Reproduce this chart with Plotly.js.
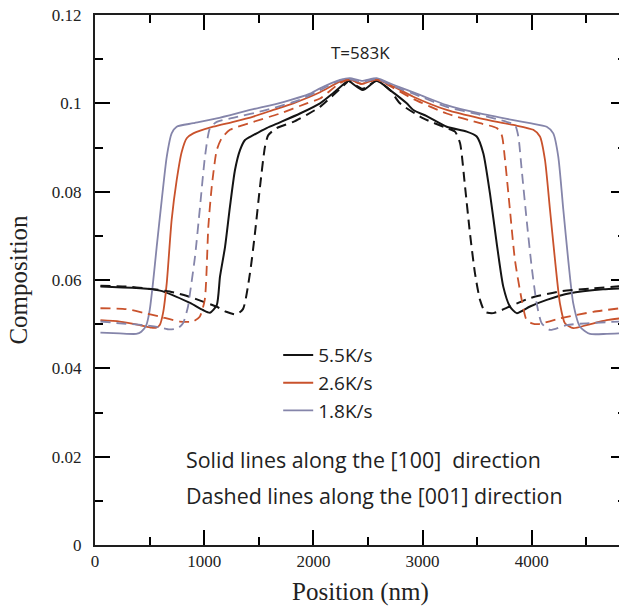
<!DOCTYPE html>
<html>
<head>
<meta charset="utf-8">
<script src="https://cdn.plot.ly/plotly-3.0.1.min.js"></script>
<style>
html, body { margin: 0; padding: 0; overflow: hidden; background: #fff; }
#chart { width: 640px; height: 606px; }
</style>
</head>
<body>
<div id="chart"></div>
<script>
// ---- Data ----
const seriesNames = ["5.5K/s", "2.6K/s", "1.8K/s"];

// 5.5 K/s, solid = [100] direction
const x55Solid = [50, 595, 870, 989, 1053, 1115, 1145, 1191, 1236, 1282, 1328, 1374, 1450, 1572, 1694, 1877, 2061, 2180, 2305, 2320, 2452, 2580, 2702, 2855, 2915, 3038, 3221, 3404, 3496, 3556, 3617, 3679, 3739, 3800, 3862, 3984, 4137, 4350, 4652, 4805];
const y55Solid = [0.0585, 0.0576, 0.0548, 0.0532, 0.0526, 0.0543, 0.0608, 0.0675, 0.0766, 0.0849, 0.0894, 0.0917, 0.0928, 0.0944, 0.0957, 0.0977, 0.1000, 0.1023, 0.1049, 0.1051, 0.1030, 0.1051, 0.1030, 0.1000, 0.0985, 0.0971, 0.0947, 0.0936, 0.0925, 0.0887, 0.0796, 0.0683, 0.0585, 0.0540, 0.0525, 0.0540, 0.0555, 0.0570, 0.0579, 0.0581];
// 5.5 K/s, dashed = [001] direction
const x55Dash = [50, 287, 470, 684, 867, 989, 1111, 1202, 1291, 1355, 1419, 1465, 1511, 1557, 1587, 1664, 1816, 1939, 2061, 2180, 2305, 2320, 2452, 2580, 2702, 2793, 3007, 3221, 3297, 3343, 3389, 3434, 3480, 3526, 3572, 3648, 3800, 3984, 4258, 4561, 4808];
const y55Dash = [0.0587, 0.0585, 0.0581, 0.0574, 0.0562, 0.0551, 0.0540, 0.0528, 0.0522, 0.0534, 0.0615, 0.0706, 0.0811, 0.0902, 0.0928, 0.0944, 0.0958, 0.0974, 0.0992, 0.1018, 0.1047, 0.1051, 0.1033, 0.1051, 0.1030, 0.1000, 0.0966, 0.0944, 0.0936, 0.0910, 0.0811, 0.0706, 0.0615, 0.0555, 0.0528, 0.0525, 0.0540, 0.0559, 0.0574, 0.0581, 0.0586];

// 2.6 K/s
const x26Solid = [50, 226, 409, 516, 561, 593, 623, 657, 702, 748, 794, 840, 900, 1083, 1267, 1450, 1633, 1816, 2061, 2244, 2335, 2442, 2580, 2732, 2915, 3221, 3526, 3831, 4014, 4075, 4121, 4167, 4213, 4258, 4304, 4380, 4503, 4686, 4805];
const y26Solid = [0.0509, 0.0506, 0.0498, 0.0492, 0.0492, 0.0498, 0.0525, 0.0593, 0.0736, 0.0826, 0.0890, 0.0921, 0.0932, 0.0947, 0.0958, 0.0970, 0.0985, 0.1000, 0.1025, 0.1049, 0.1054, 0.1044, 0.1054, 0.1038, 0.1015, 0.0985, 0.0966, 0.0951, 0.0940, 0.0925, 0.0872, 0.0759, 0.0645, 0.0547, 0.0502, 0.0491, 0.0498, 0.0509, 0.0513];
const x26Dash = [50, 287, 440, 593, 776, 897, 959, 1005, 1038, 1069, 1115, 1160, 1236, 1450, 1694, 1939, 2061, 2244, 2335, 2442, 2580, 2732, 2915, 3221, 3526, 3679, 3725, 3755, 3800, 3846, 3908, 3953, 4002, 4060, 4258, 4563, 4808];
const y26Dash = [0.0536, 0.0534, 0.0526, 0.0517, 0.0506, 0.0506, 0.0517, 0.0555, 0.0721, 0.0811, 0.0894, 0.0921, 0.0940, 0.0958, 0.0977, 0.1000, 0.1011, 0.1046, 0.1053, 0.1044, 0.1053, 0.1035, 0.1010, 0.0977, 0.0955, 0.0944, 0.0928, 0.0872, 0.0759, 0.0645, 0.0555, 0.0509, 0.0502, 0.0500, 0.0513, 0.0528, 0.0536];

// 1.8 K/s
const x18Solid = [50, 226, 378, 424, 470, 501, 531, 565, 611, 657, 702, 748, 900, 1115, 1419, 1724, 1969, 2061, 2244, 2335, 2442, 2580, 2732, 2976, 3221, 3526, 3831, 3984, 4137, 4197, 4243, 4289, 4334, 4380, 4442, 4533, 4686, 4805];
const y18Solid = [0.0481, 0.0479, 0.0478, 0.0483, 0.0498, 0.0532, 0.0593, 0.0675, 0.0781, 0.0879, 0.0932, 0.0947, 0.0955, 0.0966, 0.0985, 0.1003, 0.1022, 0.1034, 0.1053, 0.1057, 0.1051, 0.1057, 0.1042, 0.1019, 0.0996, 0.0977, 0.0962, 0.0955, 0.0947, 0.0932, 0.0879, 0.0759, 0.0645, 0.0547, 0.0494, 0.0478, 0.0478, 0.0479];
const x18Dash = [50, 226, 440, 593, 684, 760, 806, 852, 870, 916, 962, 1007, 1053, 1115, 1264, 1572, 1877, 2061, 2244, 2335, 2442, 2580, 2732, 2976, 3221, 3526, 3770, 3846, 3877, 3908, 3953, 3999, 4045, 4091, 4167, 4320, 4503, 4805];
const y18Dash = [0.0506, 0.0502, 0.0498, 0.0493, 0.0488, 0.0491, 0.0502, 0.0540, 0.0570, 0.0653, 0.0766, 0.0879, 0.0944, 0.0958, 0.0967, 0.0985, 0.1008, 0.1030, 0.1052, 0.1055, 0.1048, 0.1055, 0.1039, 0.1016, 0.0992, 0.0974, 0.0958, 0.0951, 0.0925, 0.0849, 0.0736, 0.0630, 0.0547, 0.0502, 0.0487, 0.0498, 0.0502, 0.0506];

const xRange = [0, 4863];
const yRange = [0, 0.12];
const xTickStep = 1000;
const yTickStep = 0.02;
const tempLabel = "T=583K";
const noteSolid = "Solid lines along the [100]  direction";
const noteDash = "Dashed lines along the [001] direction";

// ---- Styles ----
const colors = ["#141414", "#c9522c", "#8585aa"];
const widths = [2, 1.8, 1.8];
const dashPattern = "10px,6px";

const sets = [
  [x55Solid, y55Solid, x55Dash, y55Dash],
  [x26Solid, y26Solid, x26Dash, y26Dash],
  [x18Solid, y18Solid, x18Dash, y18Dash]
];

const traces = [];
sets.forEach((s, i) => {
  traces.push({
    x: s[0], y: s[1], type: "scatter", mode: "lines", name: seriesNames[i],
    line: {color: colors[i], width: widths[i], shape: "spline", smoothing: 0.6},
    showlegend: true, legendrank: i + 1
  });
});
sets.forEach((s, i) => {
  traces.push({
    x: s[2], y: s[3], type: "scatter", mode: "lines", name: seriesNames[i] + " [001]",
    line: {color: colors[i], width: widths[i], dash: dashPattern, shape: "spline", smoothing: 0.6},
    showlegend: false
  });
});
// empty helper trace so the overlay (minor-tick) axes exist
traces.push({x: [], y: [], type: "scatter", mode: "lines", xaxis: "x2", yaxis: "y2", showlegend: false, hoverinfo: "skip"});

const serif = "Liberation Serif, Times New Roman, serif";
const sans = "Open Sans, Noto Sans, sans-serif";
const ink = "#1e1e1e";
const tickInk = "black";

const axisCommon = {
  showline: true, linecolor: ink, linewidth: 2, mirror: "ticks",
  ticks: "inside", ticklen: 15, tickwidth: 2, tickcolor: tickInk,
  showgrid: false, zeroline: false, tickmode: "linear", tick0: 0
};
const minorCommon = {
  showline: false, mirror: "ticks",
  ticks: "inside", ticklen: 8, tickwidth: 2, tickcolor: tickInk,
  showgrid: false, zeroline: false, tickmode: "linear", tick0: 0,
  showticklabels: false, fixedrange: true
};

const layout = {
  width: 640, height: 606,
  margin: {l: 95, r: 14, t: 15, b: 61},
  paper_bgcolor: "#fff", plot_bgcolor: "#fff",
  font: {family: serif, size: 17, color: "#222"},
  showlegend: true,
  xaxis: Object.assign({}, axisCommon, {
    range: xRange, dtick: xTickStep,
    title: {text: "Position (nm)", font: {family: serif, size: 25, color: "#222"}, standoff: 13}
  }),
  yaxis: Object.assign({}, axisCommon, {
    range: yRange, dtick: yTickStep, ticklabelstandoff: 8,
    title: {text: "Composition", font: {family: serif, size: 25, color: "#222"}, standoff: 17}
  }),
  xaxis2: Object.assign({}, minorCommon, {
    range: xRange, dtick: xTickStep / 2, overlaying: "x", anchor: "y2", side: "bottom"
  }),
  yaxis2: Object.assign({}, minorCommon, {
    range: yRange, dtick: yTickStep / 2, overlaying: "y", anchor: "x2", side: "left"
  }),
  legend: {
    x: 0.345, y: 0.394, xanchor: "left", yanchor: "top",
    bgcolor: "rgba(0,0,0,0)", borderwidth: 0,
    font: {family: sans, size: 19, color: "#222"},
    itemwidth: 30, tracegroupgap: 0
  },
  annotations: [
    {x: 2427, y: 0.1116, xref: "x", yref: "y", text: tempLabel, showarrow: false,
     font: {family: sans, size: 17, color: "#222"}, xanchor: "center", yanchor: "middle"},
    {x: 815, y: 0.0193, xref: "x", yref: "y", text: noteSolid, showarrow: false,
     font: {family: sans, size: 21.4, color: "#222"}, xanchor: "left", yanchor: "middle"},
    {x: 815, y: 0.0111, xref: "x", yref: "y", text: noteDash, showarrow: false,
     font: {family: sans, size: 21.4, color: "#222"}, xanchor: "left", yanchor: "middle"}
  ]
};

Plotly.newPlot("chart", traces, layout, {displayModeBar: false, staticPlot: true});
</script>
</body>
</html>
